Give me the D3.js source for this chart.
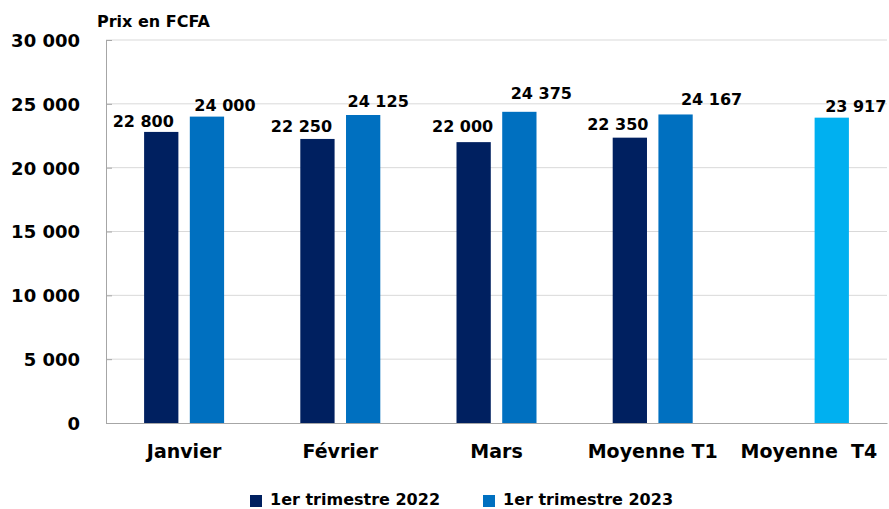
<!DOCTYPE html>
<html><head><meta charset="utf-8">
<script src="https://cdn.jsdelivr.net/npm/d3@7"></script>
<style>
html,body{margin:0;padding:0;background:#fff;}
text{font-family:"DejaVu Sans",sans-serif;font-weight:700;fill:#000;}
</style></head>
<body><svg id="c" width="889" height="509"></svg>
<script>
const categories = ["Janvier", "Février", "Mars", "Moyenne T1", "Moyenne  T4"];
const series2022 = [22800, 22250, 22000, 22350, null];
const series2023 = [24000, 24125, 24375, 24167, 23917];
const seriesNames = ["1er trimestre 2022", "1er trimestre 2023"];
const yTicks = [0, 5000, 10000, 15000, 20000, 25000, 30000];
// label nudges (styling): [dx, dy] per series per category
const nudge2022 = [[-18,-5],[-16,-7],[-11,-10],[-12,-8],null];
const nudge2023 = [[18,-6],[15,-8],[22,-13],[36,-9],[24,-6]];
const colors = ["#002060", "#0070C0"];
const t4Color = "#00B0F0";

const svg = d3.select("#c");
const W = 889, H = 509;
const m = {left:106, right:2, top:40, bottom:86};
const x0 = d3.scaleBand().domain(categories).range([m.left, W - m.right]).paddingInner(0).paddingOuter(0);
const x1 = d3.scaleBand().domain([0,1]).range([x0.bandwidth()/2 - 40, x0.bandwidth()/2 + 40]).paddingInner(0.25).paddingOuter(0);
const y = d3.scaleLinear().domain([0, 30000]).range([H - m.bottom, m.top]);
const fmt = v => d3.format(",")(v).replace(/,/g, " ");

// gridlines
svg.append("g").selectAll("line").data(yTicks.filter(t => t > 0)).join("line")
  .attr("x1", m.left).attr("x2", W - m.right)
  .attr("y1", d => y(d)).attr("y2", d => y(d))
  .attr("stroke", "#d9d9d9").attr("stroke-width", 1);

// y axis
const yAxis = svg.append("g").attr("transform", `translate(${m.left},0)`)
  .call(d3.axisLeft(y).tickValues(yTicks).tickFormat(fmt).tickSizeInner(-6).tickSizeOuter(0).tickPadding(26));
yAxis.select(".domain").attr("stroke", "#a6a6a6");
yAxis.selectAll(".tick line").attr("stroke", "#a6a6a6");
yAxis.selectAll("text").style("font-size", "18px").attr("dy", "0.36em").attr("x", -26);

// bars
const g = svg.append("g");
categories.forEach((c, i) => {
  [series2022[i], series2023[i]].forEach((v, s) => {
    if (v == null) return;
    const col = (i === categories.length - 1) ? t4Color : colors[s];
    const bx = x0(c) + x1(s);
    g.append("rect").attr("x", bx).attr("y", y(v))
      .attr("width", x1.bandwidth()).attr("height", y(0) - y(v)).attr("fill", col);
    const n = (s === 0 ? nudge2022 : nudge2023)[i];
    g.append("text").attr("x", bx + x1.bandwidth()/2 + n[0]).attr("y", y(v) + n[1])
      .attr("text-anchor", "middle").style("font-size", "16px").text(fmt(v));
  });
});

// x axis
const xAxis = svg.append("g").attr("transform", `translate(0,${y(0)})`)
  .call(d3.axisBottom(x0).tickSize(0).tickPadding(22));
xAxis.select(".domain").attr("stroke", "#a6a6a6");
xAxis.selectAll("text").style("font-size", "19px").style("white-space", "pre").attr("xml:space", "preserve");

// y title
svg.append("text").attr("x", 97).attr("y", 27).style("font-size", "16px").text("Prix en FCFA");

// legend
const leg = svg.append("g");
const lx = [250, 483];
seriesNames.forEach((n, i) => {
  leg.append("rect").attr("x", lx[i]).attr("y", 495).attr("width", 12).attr("height", 12).attr("fill", colors[i]);
  leg.append("text").attr("x", lx[i] + 20).attr("y", 505).style("font-size", "16px").text(n);
});
</script></body></html>
